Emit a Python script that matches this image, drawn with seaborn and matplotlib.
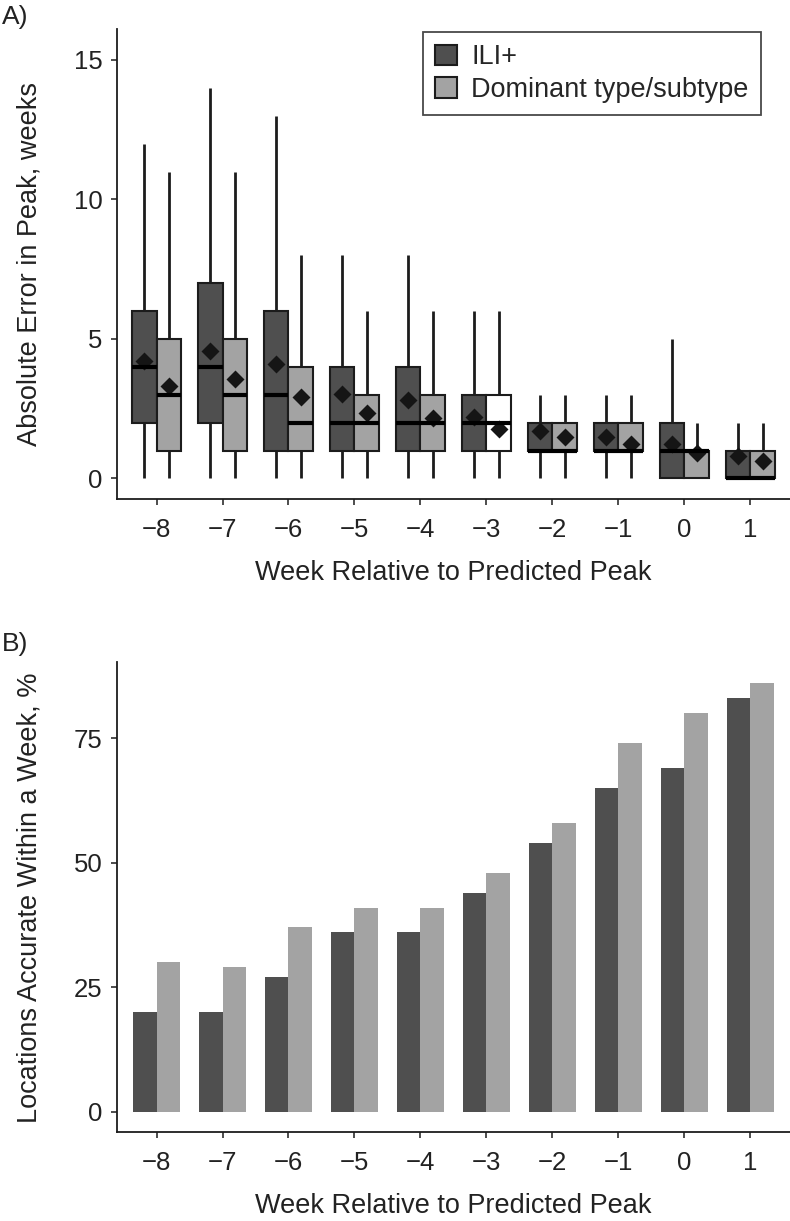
import numpy as np
import pandas as pd
import seaborn as sns
import matplotlib.pyplot as plt
from matplotlib.patches import Patch

weeks = ['\u22128', '\u22127', '\u22126', '\u22125', '\u22124', '\u22123', '\u22122', '\u22121', '0', '1']
groups = ['ILI+', 'Dominant type/subtype']

ili_low = [0, 0, 0, 0, 0, 0, 0, 0, 0, 0]
ili_q1 = [2, 2, 1, 1, 1, 1, 1, 1, 0, 0]
ili_med = [4, 4, 3, 2, 2, 2, 1, 1, 1, 0]
ili_q3 = [6, 7, 6, 4, 4, 3, 2, 2, 2, 1]
ili_high = [12, 14, 13, 8, 8, 6, 3, 3, 5, 2]
ili_mean = [4.21, 4.56, 4.12, 3.01, 2.80, 2.21, 1.71, 1.49, 1.23, 0.80]

dom_low = [0, 0, 0, 0, 0, 0, 0, 0, 0, 0]
dom_q1 = [1, 1, 1, 1, 1, 1, 1, 1, 0, 0]
dom_med = [3, 3, 2, 2, 2, 2, 1, 1, 1, 0]
dom_q3 = [5, 5, 4, 3, 3, 3, 2, 2, 1, 1]
dom_high = [11, 11, 8, 6, 6, 6, 3, 3, 2, 2]
dom_mean = [3.32, 3.58, 2.91, 2.33, 2.15, 1.79, 1.49, 1.23, 0.90, 0.63]

# panel B
ili_pct = [20, 20, 27, 36, 36, 44, 54, 65, 69, 83]
dom_pct = [30, 29, 37, 41, 41, 48, 58, 74, 80, 86]

dark = '#4f4f4f'
light = '#a3a3a3'
ink = '#1c1c1c'

sns.set_style('ticks')
plt.rcParams['font.family'] = ['Liberation Sans', 'DejaVu Sans']
plt.rcParams['axes.linewidth'] = 1.3

# five-number summaries as rows, so the box stats come straight from them
rows = []
for g, cols in zip(groups, [(ili_low, ili_q1, ili_med, ili_q3, ili_high),
                            (dom_low, dom_q1, dom_med, dom_q3, dom_high)]):
    for i, w in enumerate(weeks):
        for c in cols:
            rows.append({'week': w, 'group': g, 'err': c[i]})
box_df = pd.DataFrame(rows)

mean_df = pd.DataFrame({'week': weeks * 2,
                        'group': [groups[0]] * 10 + [groups[1]] * 10,
                        'mean': ili_mean + dom_mean})
pct_df = pd.DataFrame({'week': weeks * 2,
                       'group': [groups[0]] * 10 + [groups[1]] * 10,
                       'pct': ili_pct + dom_pct})

fig = plt.figure(figsize=(7.9, 12.21), dpi=100)
ax1 = fig.add_axes([0.148, 0.591, 0.852, 0.385])
ax2 = fig.add_axes([0.148, 0.0726, 0.852, 0.385])

sns.boxplot(data=box_df, x='week', y='err', hue='group', order=weeks, hue_order=groups,
            palette=[dark, light], saturation=1, width=0.75, gap=0, whis=(0, 100),
            linecolor=ink, linewidth=1.5, showcaps=False, showfliers=False,
            medianprops=dict(color='black', linewidth=3),
            whiskerprops=dict(color=ink, linewidth=2),
            legend=False, ax=ax1)

sns.pointplot(data=mean_df, x='week', y='mean', hue='group', order=weeks, hue_order=groups,
              palette=['#151515', '#151515'], dodge=0.375, linestyle='none', marker='D',
              markersize=7, errorbar=None, legend=False, ax=ax1)

ax1.set_xlim(-0.6, 9.6)
ax1.set_ylim(-0.75, 16.1)
ax1.set_yticks([0, 5, 10, 15])
ax1.set_xlabel('Week Relative to Predicted Peak', fontsize=19.5, color='#222')
ax1.set_ylabel('Absolute Error in Peak, weeks', fontsize=19.5, color='#222')

# one box in the original (-3, dominant type) is drawn unfilled
fig.canvas.draw()
target = ax1.transData.transform((weeks.index('\u22123') + 0.1875, 2))[0]
for p in ax1.patches:
    bb = p.get_window_extent()
    if abs((bb.x0 + bb.x1) / 2 - target) < 4:
        p.set_facecolor('white')

handles = [Patch(facecolor=dark, edgecolor=ink, linewidth=1.5),
           Patch(facecolor=light, edgecolor=ink, linewidth=1.5)]
leg = ax1.legend(handles, groups, loc='upper right', bbox_to_anchor=(0.957, 0.994),
                 borderaxespad=0, fontsize=19.5, frameon=True, fancybox=False,
                 handlelength=0.78, handleheight=0.8, handletextpad=0.55,
                 borderpad=0.45, labelspacing=0.25)
leg.get_frame().set_edgecolor(ink)
leg.get_frame().set_linewidth(1.3)

sns.barplot(data=pct_df, x='week', y='pct', hue='group', order=weeks, hue_order=groups,
            palette=[dark, light], saturation=1, width=0.7, gap=0, errorbar=None,
            linewidth=0, legend=False, ax=ax2)
ax2.set_xlim(-0.6, 9.6)
ax2.set_ylim(-4.1, 90.2)
ax2.set_yticks([0, 25, 50, 75])
ax2.set_xlabel('Week Relative to Predicted Peak', fontsize=19.5, color='#222')
ax2.set_ylabel('Locations Accurate Within a Week, %', fontsize=19.5, color='#222')

for ax in (ax1, ax2):
    sns.despine(ax=ax)
    ax.spines['left'].set_color(ink)
    ax.spines['bottom'].set_color(ink)
    ax.tick_params(direction='out', length=4.3, width=1.1, color=ink,
                   labelsize=18.5, labelcolor='#222')
    ax.tick_params(axis='x', pad=9)
    ax.tick_params(axis='y', pad=6)
    ax.xaxis.set_label_coords(0.5, -0.128)
    ax.yaxis.set_label_coords(-0.11, 0.5)

fig.text(0.002, 1 - 24 / 1221, 'A)', fontsize=19, color='#222', va='baseline')
fig.text(0.002, 1 - 651 / 1221, 'B)', fontsize=19, color='#222', va='baseline')

fig.savefig('out.png', dpi=100)
